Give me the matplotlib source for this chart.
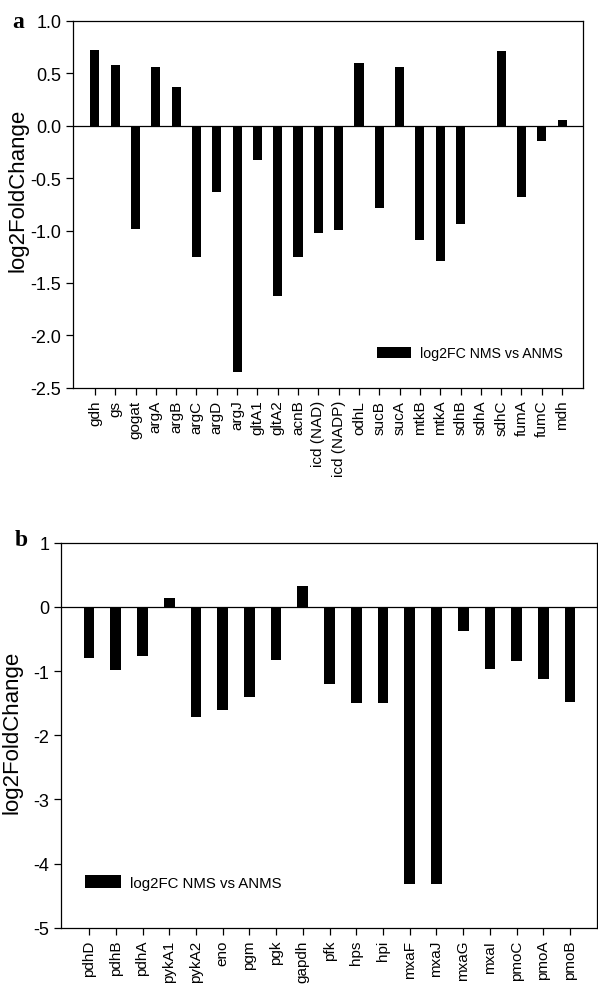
import numpy as np
import matplotlib.pyplot as plt

plt.rcParams['font.family'] = ['Liberation Sans', 'DejaVu Sans']

# panel a: TCA cycle / nitrogen genes
genes_a = ['gdh', 'gs', 'gogat', 'argA', 'argB', 'argC', 'argD', 'argJ',
           'gltA1', 'gltA2', 'acnB', 'icd (NAD)', 'icd (NADP)', 'odhL',
           'sucB', 'sucA', 'mtkB', 'mtkA', 'sdhB', 'sdhA', 'sdhC', 'fumA',
           'fumC', 'mdh']
lfc_a = [0.72, 0.577, -0.985, 0.555, 0.37, -1.25, -0.63, -2.35,
         -0.33, -1.62, -1.25, -1.02, -0.995, 0.596,
         -0.784, 0.558, -1.087, -1.288, -0.94, -0.01, 0.71, -0.676,
         -0.15, 0.054]

# panel b: glycolysis / methanol / methane genes
genes_b = ['pdhD', 'pdhB', 'pdhA', 'pykA1', 'pykA2', 'eno', 'pgm', 'pgk',
           'gapdh', 'pfk', 'hps', 'hpi', 'mxaF', 'mxaJ', 'mxaG', 'mxaI',
           'pmoC', 'pmoA', 'pmoB']
lfc_b = [-0.79, -0.98, -0.76, 0.135, -1.71, -1.61, -1.40, -0.83,
         0.32, -1.20, -1.50, -1.50, -4.31, -4.31, -0.37, -0.97,
         -0.84, -1.12, -1.48]

legend_label = 'log2FC NMS vs ANMS'

fig = plt.figure(figsize=(5.98, 9.87), dpi=100)
ax1 = fig.add_axes([0.122, 0.606, 0.853, 0.372])
ax2 = fig.add_axes([0.102, 0.059, 0.896, 0.390])


def draw_panel(ax, genes, vals, width, ylim, yticks, yfmt, legend_loc, legend_anchor, legend_fs):
    x = np.arange(len(genes))
    ax.bar(x, vals, width=width, color='black', label=legend_label)
    ax.axhline(0, color='black', lw=0.9)
    ax.set_ylim(*ylim)
    ax.set_yticks(yticks)
    ax.set_yticklabels([yfmt.format(t) for t in yticks], fontsize=13)
    ax.set_xticks(x)
    ax.set_xticklabels(genes, rotation=90, fontsize=11)
    ax.tick_params(direction='out', length=5, width=0.9)
    for s in ax.spines.values():
        s.set_linewidth(0.9)
    ax.set_ylabel('log2FoldChange', fontsize=16)
    ax.legend(loc=legend_loc, bbox_to_anchor=legend_anchor, frameon=False,
              fontsize=legend_fs, handlelength=2.4, handleheight=0.9, handletextpad=0.6)


draw_panel(ax1, genes_a, lfc_a, 0.45, (-2.5, 1.0), np.arange(-2.5, 1.01, 0.5),
           '{:.1f}', 'lower right', (0.985, 0.04), 10.2)
ax1.set_xlim(-1.08, len(genes_a) - 1 + 1.03)
ax1.yaxis.set_label_coords(-0.088, 0.542)

draw_panel(ax2, genes_b, lfc_b, 0.4, (-5, 1), np.arange(-5, 1.01, 1),
           '{:.0f}', 'lower left', (0.02, 0.064), 10.8)
ax2.set_xlim(-1.05, len(genes_b) - 1 + 1.0)
ax2.yaxis.set_label_coords(-0.072, 0.51)

fig.text(0.02, 0.977, 'a', fontsize=17, fontweight='bold', family='Liberation Serif', va='center')
fig.text(0.025, 0.452, 'b', fontsize=17, fontweight='bold', family='Liberation Serif', va='center')

plt.savefig('out.png', dpi=100)
